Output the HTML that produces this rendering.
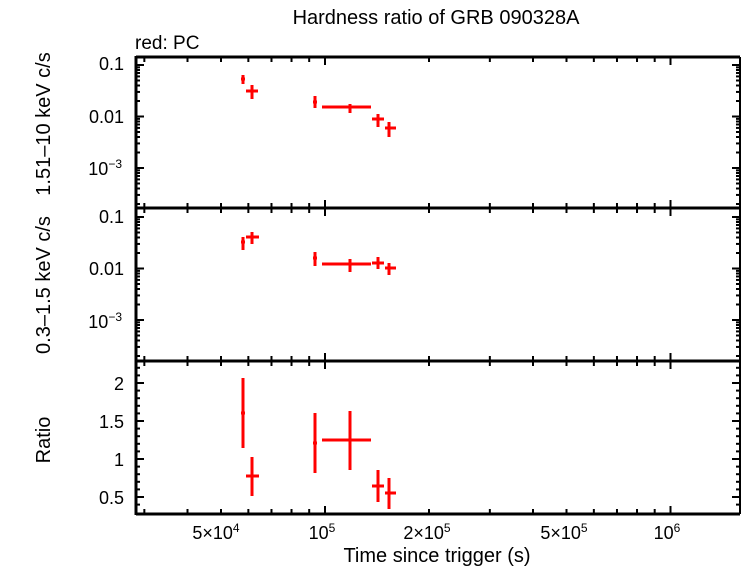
<!DOCTYPE html>
<html><head><meta charset="utf-8"><style>
html,body{margin:0;padding:0;background:#fff;}
svg{display:block;font-family:"Liberation Sans",sans-serif;}
</style></head><body>
<svg id="s" width="742" height="566" xmlns="http://www.w3.org/2000/svg">
<text x="436" y="24" font-size="20" text-anchor="middle">Hardness ratio of GRB 090328A</text>
<text x="135" y="49" font-size="19">red: PC</text>
<text x="437" y="562" font-size="20" text-anchor="middle">Time since trigger (s)</text>
<text transform="translate(50,124) rotate(-90)" font-size="20" text-anchor="middle">1.51–10 keV c/s</text>
<text transform="translate(50,285) rotate(-90)" font-size="20" text-anchor="middle">0.3–1.5 keV c/s</text>
<text transform="translate(50,440) rotate(-90)" font-size="20" text-anchor="middle">Ratio</text>
<g font-size="18" text-anchor="end">
<text x="124" y="70">0.1</text><text x="124" y="123">0.01</text><text x="122" y="175">10<tspan dy="-7" font-size="12">−3</tspan></text>
<text x="124" y="223">0.1</text><text x="124" y="275">0.01</text><text x="122" y="328">10<tspan dy="-7" font-size="12">−3</tspan></text>
<text x="124" y="390">2</text><text x="124" y="428">1.5</text><text x="124" y="466">1</text><text x="124" y="504">0.5</text>
</g>
<g font-size="18" text-anchor="middle">
<text x="216" y="539">5×10<tspan dy="-7" font-size="12">4</tspan></text>
<text x="322" y="539">10<tspan dy="-7" font-size="12">5</tspan></text>
<text x="427" y="539">2×10<tspan dy="-7" font-size="12">5</tspan></text>
<text x="564" y="539">5×10<tspan dy="-7" font-size="12">5</tspan></text>
<text x="667" y="539">10<tspan dy="-7" font-size="12">6</tspan></text>
</g>
<g id="ax" stroke="#000" stroke-width="2" fill="none"></g>
<g id="d" stroke="#f00" stroke-width="3" fill="none"></g>
</svg>
<script>
var ax=document.getElementById('ax'),d=document.getElementById('d');
function L(g,x1,y1,x2,y2,w){var e=document.createElementNS('http://www.w3.org/2000/svg','line');e.setAttribute('x1',x1);e.setAttribute('y1',y1);e.setAttribute('x2',x2);e.setAttribute('y2',y2);if(w)e.setAttribute('stroke-width',w);g.appendChild(e);}
var X0=136,X1=740,P=[57,208,361,514];
L(ax,X0,P[0]-1,X0,P[3]+1,3);L(ax,X1,P[0],X1,P[3]);
P.forEach(function(y){L(ax,X0,y,X1,y,3);});
function xp(t){return 325+345.5*Math.log10(t/1e5);}
var xt=[];for(var k=3;k<=9;k++)xt.push([k*1e4,0]);for(k=1;k<=9;k++)xt.push([k*1e5,k==1]);xt.push([1e6,1]);
xt.forEach(function(a){var x=xp(a[0]);if(x<=X0+1||x>=X1-1)return;var l=a[1]?8:5;
P.forEach(function(y,i){if(i>0)L(ax,x,y-l,x,y);if(i<3)L(ax,x,y,x,y+l);});});
[[65,57,208],[217,208,361]].forEach(function(p){var y01=p[0];
for(var e=-1;e>=-5;e--){for(var m=1;m<=9;m++){var v=Math.log10(m)+e;var y=y01-51.5*(v+1);if(y<=p[1]+1||y>=p[2]-1)continue;var l=m==1?8:4;L(ax,X0,y,X0+l,y);L(ax,X1-l,y,X1,y);}}});
for(var v=0.4;v<=2.26;v+=0.1){var y=459-76*(v-1);if(y<=362||y>=513)continue;var mj=Math.abs(v*2-Math.round(v*2))<0.01;var l=mj?8:4;L(ax,X0,y,X0+l,y);L(ax,X1-l,y,X1,y);}
var pts=[
[243,241,245,79,75,84],[252,246,258,91,85,99],[315,313,317,102,96,108],[350,322,371,107,104,113],[378,372,384,119,114,127],[389,385,396,128,122,137],
[243,241,245,242,237,250],[252,246,259,237,232,244],[315,313,317,258,252,266],[350,322,371,264,259,272],[378,372,384,263,257,269],[389,385,396,268,263,275],
[243,241,245,413,378,448],[252,246,259,476,457,496],[315,313,317,443,413,473],[350,322,371,440,411,470],[378,372,384,486,470,502],[389,385,396,493,478,509]];
pts.forEach(function(p){L(d,p[1],p[3],p[2],p[3]);L(d,p[0],p[4],p[0],p[5]);});
</script>
</body></html>
